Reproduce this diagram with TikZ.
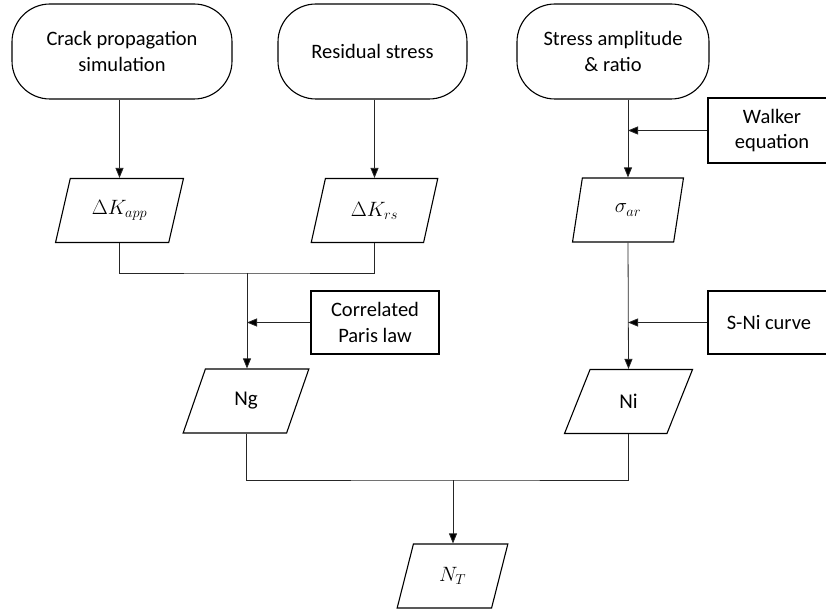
\documentclass[tikz,border=0pt]{standalone}
\usepackage{fontspec}
\setmainfont{Carlito}
\usetikzlibrary{shapes.geometric,arrows.meta}
\tikzset{
  term/.style={draw, line width=1.1pt, rounded corners=38pt, align=center, inner sep=0pt,
    font=\fontsize{20.5}{25.5}\selectfont},
  procbox/.style={draw, line width=1.1pt, align=center, inner sep=0pt,
    font=\fontsize{20.5}{25.5}\selectfont},
  para/.style={draw, line width=1.1pt, trapezium, trapezium stretches=true, inner sep=0pt,
    minimum height=64pt, font=\fontsize{21}{25.5}\selectfont},
  conn/.style={line width=0.8pt, draw=black!85},
  arr/.style={conn, -{Triangle[length=10pt,width=8pt,fill=black]}}
}
\begin{document}
\begin{tikzpicture}[x=1pt,y=-1pt]
\useasboundingbox (0,0) rectangle (826,609);
% terminals
\node[term, minimum width=220pt, minimum height=95pt] (t1) at (122,51.5) {Crack propagation\\simulation};
\node[term, minimum width=189pt, minimum height=95pt] (t2) at (372.5,51.5) {Residual stress};
\node[term, minimum width=192pt, minimum height=95pt] (t3) at (613,51.5) {Stress amplitude\\\& ratio};
% process boxes
\node[procbox, minimum width=128pt, minimum height=65pt] (walker) at (772,130.5) {Walker\\equation};
\node[procbox, minimum width=128pt, minimum height=63pt] (paris) at (375,322.5) {Correlated\\Paris law};
\node[procbox, minimum width=122pt, minimum height=63pt] (sni) at (769,322.5) {S-Ni curve};
% parallelograms
\node[para, minimum width=128pt, trapezium left angle=67.6, trapezium right angle=112.4] (dka) at (119.5,210.5) {$\Delta K_{app}$};
\node[para, minimum width=127pt, trapezium left angle=68.5, trapezium right angle=111.5] (dkr) at (374.5,210.5) {$\Delta K_{rs}$};
\node[para, minimum width=111pt, trapezium left angle=76.8, trapezium right angle=103.2] (sig) at (628,210) {$\sigma_{ar}$};
\node[para, minimum width=126pt, trapezium left angle=69.4, trapezium right angle=110.6] (ng) at (246,401) {Ng};
\node[para, minimum width=128pt, trapezium left angle=67.1, trapezium right angle=112.9] (ni) at (628.5,401.5) {Ni};
\node[para, minimum width=111pt, trapezium left angle=72, trapezium right angle=108] (nt) at (452.5,576) {$N_T$};
% coordinates
\coordinate (j1) at (247,273);
\coordinate (j2) at (453,480);
% connectors
\draw[arr] (dka.north |- t1.south) -- (dka.north);
\draw[arr] (dkr.north |- t2.south) -- (dkr.north);
\draw[arr] (sig.north |- t3.south) -- (sig.north);
\draw[arr] (walker.west) -- (sig.north |- walker.west);
\draw[conn] (dka.south) |- (j1) -| (dkr.south);
\draw[arr] (j1) -- (j1 |- ng.north);
\draw[arr] (paris.west) -- (j1 |- paris.west);
\draw[arr] (sig.south) -- (ni.north);
\draw[arr] (sni.west) -- (sig.south |- sni.west);
\draw[conn] (ng.south) |- (j2) -| (ni.south);
\draw[arr] (j2) -- (j2 |- nt.north);
\end{tikzpicture}
\end{document}
